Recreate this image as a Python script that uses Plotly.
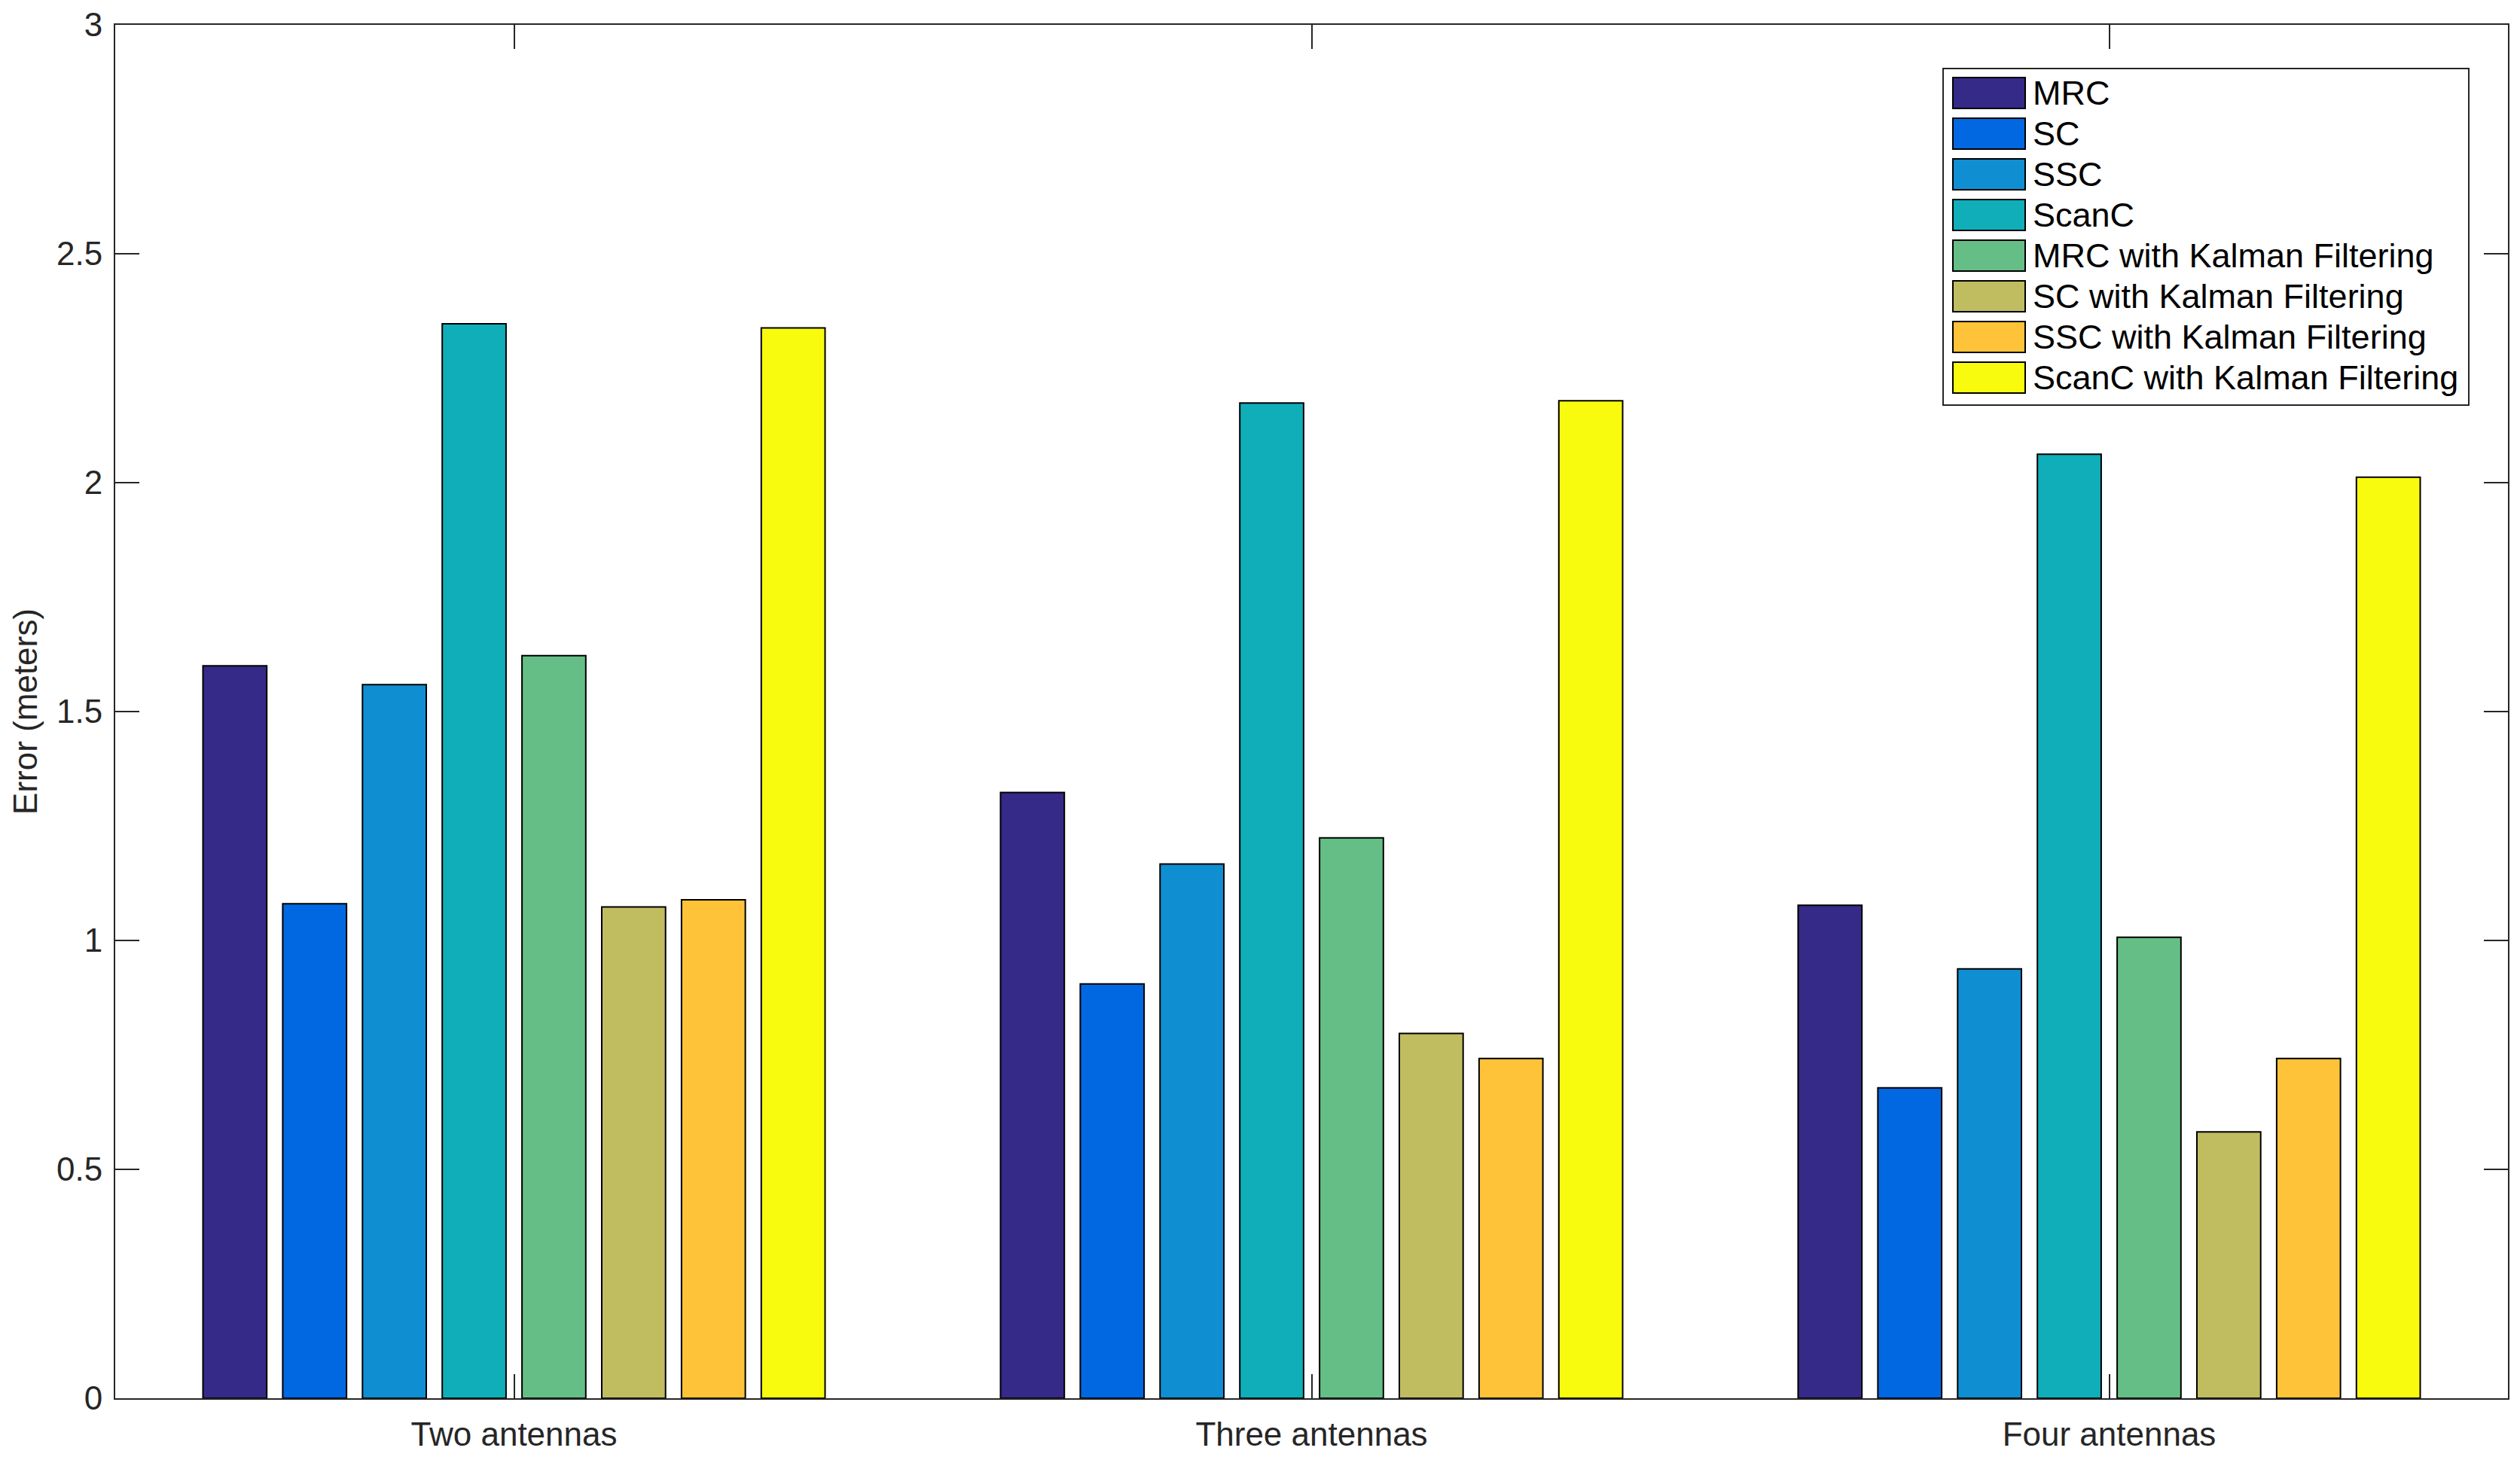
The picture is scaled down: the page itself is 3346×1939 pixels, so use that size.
import plotly.graph_objects as go

categories = ["Two antennas", "Three antennas", "Four antennas"]
series_names = [
    "MRC", "SC", "SSC", "ScanC",
    "MRC with Kalman Filtering", "SC with Kalman Filtering",
    "SSC with Kalman Filtering", "ScanC with Kalman Filtering",
]
mrc = [1.600, 1.323, 1.077]
sc = [1.080, 0.905, 0.678]
ssc = [1.559, 1.167, 0.938]
scanc = [2.347, 2.174, 2.062]
mrc_kf = [1.622, 1.224, 1.007]
sc_kf = [1.073, 0.797, 0.582]
ssc_kf = [1.089, 0.742, 0.742]
scanc_kf = [2.338, 2.179, 2.012]
series_values = [mrc, sc, ssc, scanc, mrc_kf, sc_kf, ssc_kf, scanc_kf]
colors = ["#352A87", "#0268E1", "#108ED2", "#0FAEB9",
          "#65BE86", "#C0BC60", "#FEC338", "#F9FB0E"]
y_tick_vals = [0, 0.5, 1, 1.5, 2, 2.5, 3]
y_tick_text = ["0", "0.5", "1", "1.5", "2", "2.5", "3"]

OFF = 8  # default page body margin of the html page
W, H = 3346 - OFF, 1939 - OFF
# plot area in page pixels
L, R, T, B = 153, 3330, 33, 1857
FONT = "Liberation Sans, Arial, Helvetica, sans-serif"
AX = "#262626"


def px_x(px):
    return (px - L) / (R - L)


def px_y(py):
    return (B - py) / (B - T)


fig = go.Figure()
for name, vals, col in zip(series_names, series_values, colors):
    fig.add_trace(go.Bar(
        x=categories, y=vals, name=name, showlegend=False,
        marker=dict(color=col, line=dict(color="black", width=2)),
    ))

# manual legend (large swatches as in the reference)
shapes = [dict(type="rect", xref="paper", yref="paper",
               x0=px_x(2580), x1=px_x(3278), y0=px_y(538), y1=px_y(91),
               line=dict(color=AX, width=2), fillcolor="white", layer="above")]
annotations = []
for i, (name, col) in enumerate(zip(series_names, colors)):
    cy = 123.5 + 54 * i
    shapes.append(dict(type="rect", xref="paper", yref="paper",
                       x0=px_x(2593), x1=px_x(2689),
                       y0=px_y(cy + 20.5), y1=px_y(cy - 20.5),
                       fillcolor=col, line=dict(color="black", width=2),
                       layer="above"))
    annotations.append(dict(xref="paper", yref="paper", x=px_x(2697), y=px_y(cy),
                            xanchor="left", yanchor="middle", text=name,
                            showarrow=False,
                            font=dict(family=FONT, size=45, color="black")))

fig.update_layout(
    width=W, height=H,
    margin=dict(l=L - OFF, r=W - (R - OFF), t=T - OFF, b=H - (B - OFF), pad=0),
    paper_bgcolor="white", plot_bgcolor="white",
    barmode="group", bargap=0.2, bargroupgap=0.2,
    font=dict(family=FONT, size=44, color=AX),
    shapes=shapes, annotations=annotations,
    xaxis=dict(
        range=[-0.5, 2.5], showline=True, linecolor=AX, linewidth=2,
        mirror="ticks", ticks="inside", ticklen=32, tickwidth=2, tickcolor=AX,
        showgrid=False, zeroline=False, automargin=False,
        tickfont=dict(family=FONT, size=44, color=AX), ticklabelstandoff=8,
    ),
    yaxis=dict(
        range=[0, 3], tickvals=y_tick_vals, ticktext=y_tick_text,
        showline=True, linecolor=AX, linewidth=2,
        mirror="ticks", ticks="inside", ticklen=32, tickwidth=2, tickcolor=AX,
        showgrid=False, zeroline=False, automargin=False,
        tickfont=dict(family=FONT, size=44, color=AX), ticklabelstandoff=6,
        title=dict(text="Error (meters)", standoff=12,
                   font=dict(family=FONT, size=44, color=AX)),
    ),
)

fig.write_html("out.html")
